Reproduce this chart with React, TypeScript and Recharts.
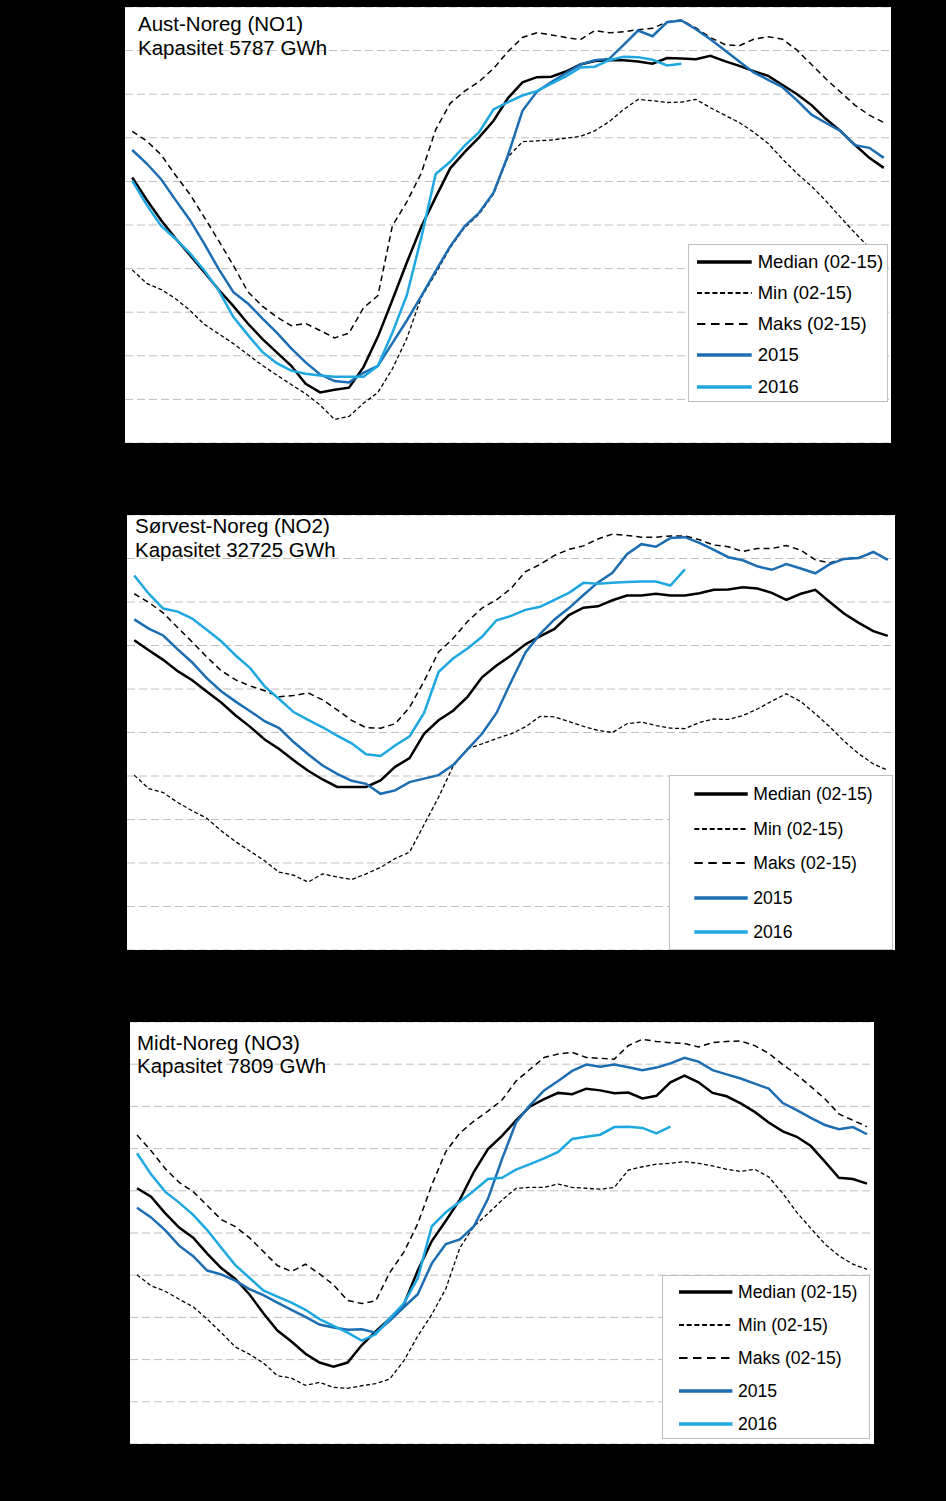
import React from 'react';
import { LineChart, Line, XAxis, YAxis, CartesianGrid, Legend } from 'recharts';

const FONT = "'Liberation Sans', Arial, sans-serif";

const weeks = [
  1, 2, 3, 4, 5, 6, 7, 8, 9, 10, 11, 12, 13, 14, 15, 16, 17, 18, 19, 20, 21, 22, 23, 24, 25, 26, 27,
  28, 29, 30, 31, 32, 33, 34, 35, 36, 37, 38, 39, 40, 41, 42, 43, 44, 45, 46, 47, 48, 49, 50, 51, 52, 53,
];
const yTicks = [0, 10, 20, 30, 40, 50, 60, 70, 80, 90, 100];

// Aust-Noreg (NO1), fyllingsgrad i prosent
const no1Median = [
  60.9, 55.8, 51.1, 46.9, 43.1, 39.1, 35.1, 31.4, 27.4, 23.9, 20.8, 17.7, 13.6, 11.6, 12.2, 12.7, 17.4, 24.4,
  32.8, 41.4, 49.6, 56.4, 63.0, 66.7, 70.1, 73.9, 79.1, 82.7, 83.9, 84.0, 85.2, 86.8, 87.6, 87.8, 87.8, 87.5,
  87.0, 88.3, 88.2, 88.0, 88.8, 87.6, 86.5, 85.3, 84.2, 82.1, 80.0, 77.5, 74.3, 71.6, 68.4, 65.4, 63.1,
];
const no1Min = [
  39.7, 36.6, 35.2, 33.1, 30.4, 27.2, 25.0, 22.8, 20.3, 17.8, 15.6, 13.4, 11.3, 8.7, 5.4, 6.1, 9.1, 11.6,
  17.0, 24.0, 33.4, 38.9, 44.8, 49.4, 52.5, 57.1, 65.6, 69.1, 69.3, 69.5, 69.9, 70.3, 71.6, 73.7, 76.5, 78.8,
  78.5, 78.1, 78.2, 78.8, 76.9, 75.2, 73.5, 71.3, 68.7, 65.1, 61.8, 58.9, 55.5, 51.8, 48.2, 44.8, 42.0,
];
const no1Maks = [
  71.5, 69.3, 66.1, 61.4, 57.0, 51.7, 46.3, 40.7, 34.7, 31.4, 28.9, 26.9, 27.4, 25.8, 24.1, 25.2, 31.0, 33.8,
  49.8, 55.3, 61.9, 71.9, 77.9, 80.7, 82.9, 85.9, 89.8, 93.0, 94.1, 93.6, 93.0, 92.5, 94.6, 94.1, 94.3, 94.8,
  95.1, 96.6, 97.0, 95.2, 93.0, 91.4, 91.1, 92.6, 93.2, 92.6, 90.1, 86.8, 83.5, 80.5, 77.5, 75.2, 73.5,
];
const no1Y2015 = [
  67.2, 64.1, 60.5, 55.7, 51.1, 45.6, 39.8, 34.6, 32.0, 28.6, 25.3, 21.7, 18.5, 15.7, 14.2, 13.9, 16.1, 17.7,
  22.9, 28.1, 33.7, 39.5, 45.1, 49.7, 52.8, 57.4, 66.0, 76.2, 80.6, 82.8, 84.8, 86.8, 87.8, 88.1, 91.3, 94.6,
  93.3, 96.5, 96.9, 94.9, 92.6, 90.1, 87.5, 85.0, 83.3, 81.6, 78.6, 75.3, 73.4, 71.6, 68.3, 67.7, 65.4,
];
const no1Y2016 = [
  60.2, 54.6, 49.8, 46.8, 43.5, 39.5, 34.9, 28.9, 24.8, 20.9, 18.3, 16.6, 15.9, 15.5, 15.2, 15.2, 15.2, 17.7,
  25.3, 33.9, 47.1, 61.7, 64.5, 68.2, 71.3, 76.5, 78.2, 79.7, 80.7, 82.4, 84.1, 86.1, 86.3, 87.8, 88.6, 88.5,
  87.9, 86.6, 87.0,
];

// Sørvest-Noreg (NO2)
const no2Median = [
  71.2, 68.9, 66.7, 64.1, 62.0, 59.4, 56.9, 53.9, 51.3, 48.4, 46.2, 43.6, 41.2, 39.2, 37.5, 37.5, 37.5, 39.0,
  42.1, 44.1, 49.7, 52.8, 55.0, 58.2, 62.7, 65.4, 67.7, 70.3, 72.1, 73.8, 77.0, 78.7, 79.0, 80.4, 81.5, 81.5,
  81.9, 81.5, 81.5, 82.0, 82.8, 82.9, 83.4, 83.1, 82.1, 80.5, 81.9, 82.8, 80.0, 77.3, 75.2, 73.3, 72.2,
];
const no2Min = [
  40.2, 37.1, 36.2, 33.9, 32.0, 30.3, 27.4, 24.9, 22.7, 20.5, 17.9, 17.2, 15.6, 17.5, 16.8, 16.2, 17.5, 19.0,
  21.0, 22.5, 28.8, 35.1, 42.2, 46.3, 47.4, 48.6, 49.7, 51.3, 53.7, 53.6, 52.5, 51.4, 50.5, 50.0, 52.0, 52.4,
  51.6, 51.0, 50.9, 52.3, 53.1, 53.0, 53.9, 55.4, 57.2, 58.9, 57.1, 54.3, 51.3, 48.0, 45.1, 42.8, 41.3,
];
const no2Maks = [
  81.9, 79.9, 77.5, 74.1, 70.8, 67.4, 64.2, 62.1, 60.7, 59.6, 58.2, 58.5, 59.1, 57.5, 55.2, 52.8, 51.1, 51.0,
  52.0, 55.8, 61.8, 68.5, 71.6, 75.5, 78.6, 80.5, 83.1, 87.0, 88.6, 90.7, 92.1, 92.9, 94.5, 95.6, 95.3, 94.9,
  94.9, 95.2, 95.2, 94.3, 93.1, 92.7, 91.6, 92.3, 92.3, 93.0, 91.9, 89.7, 89.0, 90.0, 90.2, 91.5, 89.8,
];
const no2Y2015 = [
  76.0, 73.9, 72.3, 69.1, 66.1, 62.5, 59.5, 57.1, 54.9, 52.6, 51.0, 47.8, 45.0, 42.4, 40.5, 38.9, 38.2, 35.9,
  36.7, 38.6, 39.4, 40.2, 42.5, 46.1, 49.7, 54.5, 61.6, 68.4, 72.6, 76.0, 78.6, 81.6, 84.5, 86.7, 91.0, 93.3,
  92.7, 94.7, 94.9, 93.6, 92.0, 90.3, 89.6, 88.2, 87.4, 88.7, 87.7, 86.6, 88.7, 89.9, 90.1, 91.5, 89.7,
];
const no2Y2016 = [
  86.1, 81.9, 78.5, 77.8, 76.2, 73.6, 71.0, 67.7, 64.8, 60.6, 57.7, 54.7, 52.9, 51.2, 49.3, 47.5, 45.0, 44.6,
  47.0, 49.1, 54.5, 63.9, 67.0, 69.3, 72.0, 75.8, 76.8, 78.2, 78.9, 80.5, 82.1, 84.4, 84.2, 84.4, 84.6, 84.7,
  84.7, 83.8, 87.5,
];

// Midt-Noreg (NO3)
const no3Median = [
  60.6, 58.6, 54.7, 51.3, 48.9, 45.1, 41.7, 39.1, 35.5, 31.0, 26.9, 24.3, 21.4, 19.3, 18.3, 19.3, 23.4, 26.7,
  29.7, 33.0, 41.1, 48.1, 52.9, 57.9, 64.5, 69.9, 73.0, 76.7, 80.0, 81.7, 83.2, 82.9, 84.2, 83.8, 83.1, 83.3,
  81.9, 82.5, 85.7, 87.3, 85.7, 83.2, 82.4, 80.7, 78.7, 76.2, 74.1, 72.8, 70.6, 66.9, 63.1, 62.8, 61.7,
];
const no3Min = [
  40.1, 37.5, 36.2, 34.3, 32.5, 29.6, 26.4, 23.0, 21.3, 19.2, 16.2, 15.6, 13.9, 14.6, 13.4, 13.2, 13.8, 14.3,
  15.4, 19.7, 25.6, 30.7, 36.8, 46.5, 51.6, 54.6, 57.8, 60.6, 60.8, 60.8, 61.6, 60.8, 60.6, 60.4, 60.8, 64.9,
  65.7, 66.3, 66.5, 66.9, 66.5, 65.9, 65.1, 64.6, 65.1, 63.3, 59.4, 54.9, 51.1, 47.4, 44.6, 42.6, 41.4,
];
const no3Maks = [
  73.2, 69.5, 65.3, 62.0, 59.8, 56.5, 53.2, 51.5, 48.9, 45.6, 42.3, 40.9, 42.6, 40.3, 37.7, 34.0, 33.3, 33.9,
  40.6, 45.4, 52.2, 61.4, 69.3, 73.7, 76.5, 78.9, 81.5, 86.0, 88.8, 91.6, 92.4, 92.8, 91.6, 91.4, 91.2, 94.4,
  95.9, 95.4, 95.1, 94.9, 94.1, 95.1, 95.4, 95.5, 94.4, 92.6, 89.9, 87.5, 84.7, 81.8, 78.2, 76.7, 75.2,
];
const no3Y2015 = [
  56.0, 53.7, 50.7, 47.0, 44.5, 41.1, 40.2, 38.7, 36.7, 35.3, 33.5, 31.8, 30.1, 28.3, 27.6, 27.1, 27.2, 26.4,
  29.2, 32.4, 35.5, 42.8, 47.4, 48.5, 51.6, 58.1, 67.5, 76.2, 80.3, 83.8, 86.0, 88.4, 89.9, 89.4, 89.9, 89.3,
  88.6, 89.2, 90.2, 91.5, 90.6, 88.6, 87.6, 86.6, 85.4, 84.2, 80.8, 79.1, 77.3, 75.6, 74.6, 75.1, 73.4,
];
const no3Y2016 = [
  68.9, 63.9, 59.8, 57.2, 54.3, 50.7, 46.5, 42.4, 39.4, 36.4, 34.9, 33.5, 31.8, 29.6, 28.0, 26.4, 24.5, 26.0,
  29.7, 33.3, 39.3, 51.6, 54.9, 57.4, 60.0, 62.8, 63.1, 65.0, 66.3, 67.7, 69.2, 72.3, 72.8, 73.3, 75.1, 75.2,
  74.9, 73.6, 75.2,
];

const seriesStyles = [
  { key: 'maks', name: 'Maks (02-15)', stroke: '#000000', width: 1.5, dash: '6 4', legendWidth: 2, legendDash: '8.5 5.5' },
  { key: 'min', name: 'Min (02-15)', stroke: '#000000', width: 1.3, dash: '4 2.5', legendWidth: 2, legendDash: '5 2.7' },
  { key: 'median', name: 'Median (02-15)', stroke: '#000000', width: 2.5, dash: undefined, legendWidth: 3.5, legendDash: undefined },
  { key: 'y2015', name: '2015', stroke: '#1c6db1', width: 2.5, dash: undefined, legendWidth: 3.5, legendDash: undefined },
  { key: 'y2016', name: '2016', stroke: '#1ea7e1', width: 2.5, dash: undefined, legendWidth: 3.5, legendDash: undefined },
];
const legendOrder = ['median', 'min', 'maks', 'y2015', 'y2016'];

function buildRows(median: number[], min: number[], maks: number[], y2015: number[], y2016: number[]) {
  return weeks.map((week, i) => ({
    week,
    median: median[i],
    min: min[i],
    maks: maks[i],
    y2015: y2015[i],
    y2016: i < y2016.length ? y2016[i] : null,
  }));
}

const panels = [
  {
    id: 'no1',
    title: 'Aust-Noreg (NO1)',
    capacity: 'Kapasitet 5787 GWh',
    rows: buildRows(no1Median, no1Min, no1Maks, no1Y2015, no1Y2016),
    box: { left: 125, top: 7, width: 766, height: 436 },
    titleX: 138,
    baselines: [31, 55],
    legend: { left: 563, top: 237, width: 200, height: 158, firstRow: 16.7, rowGap: 31.2, x1: 8, x2: 62.7, textX: 68.7, fontSize: 18.5 },
  },
  {
    id: 'no2',
    title: 'Sørvest-Noreg (NO2)',
    capacity: 'Kapasitet 32725 GWh',
    rows: buildRows(no2Median, no2Min, no2Maks, no2Y2015, no2Y2016),
    box: { left: 127, top: 515, width: 768, height: 435 },
    titleX: 135,
    baselines: [533, 557],
    legend: { left: 542, top: 260, width: 224, height: 175, firstRow: 18.4, rowGap: 34.5, x1: 24.3, x2: 77.7, textX: 83.3, fontSize: 17.6 },
  },
  {
    id: 'no3',
    title: 'Midt-Noreg (NO3)',
    capacity: 'Kapasitet 7809 GWh',
    rows: buildRows(no3Median, no3Min, no3Maks, no3Y2015, no3Y2016),
    box: { left: 130, top: 1022, width: 744, height: 422 },
    titleX: 137,
    baselines: [1050, 1073],
    legend: { left: 532, top: 253, width: 208, height: 164, firstRow: 15.6, rowGap: 33, x1: 16, x2: 69.4, textX: 75, fontSize: 17.6 },
  },
];

const TITLE_SIZE = 20.5;

function LegendBox({ cfg }: { cfg: any }) {
  const items = legendOrder.map((k) => seriesStyles.find((s) => s.key === k)!);
  return (
    <div
      style={{
        position: 'relative',
        width: cfg.width,
        height: cfg.height,
        boxSizing: 'border-box',
        border: '1px solid #bfbfbf',
        background: '#ffffff',
        fontFamily: FONT,
      }}
    >
      {items.map((s, i) => (
        <div
          key={s.key}
          style={{
            position: 'absolute',
            left: 0,
            top: cfg.firstRow + i * cfg.rowGap - 14,
            height: 28,
            display: 'flex',
            alignItems: 'center',
            whiteSpace: 'nowrap',
          }}
        >
          <svg width={cfg.textX} height={28} style={{ display: 'block' }}>
            <line
              x1={cfg.x1}
              x2={cfg.x2}
              y1={14}
              y2={14}
              stroke={s.stroke}
              strokeWidth={s.legendWidth}
              strokeDasharray={s.legendDash}
            />
          </svg>
          <span style={{ fontSize: cfg.fontSize, color: '#000', lineHeight: '28px' }}>{s.name}</span>
        </div>
      ))}
    </div>
  );
}

export default function App() {
  return (
    <div
      style={{
        position: 'absolute',
        left: 0,
        top: 0,
        width: 946,
        height: 1501,
        background: '#000000',
        overflow: 'hidden',
        fontFamily: FONT,
      }}
    >
      {panels.map((p) => (
        <div
          key={p.id}
          style={{
            position: 'absolute',
            left: p.box.left,
            top: p.box.top,
            width: p.box.width,
            height: p.box.height,
            background: '#ffffff',
          }}
        >
          <LineChart
            width={p.box.width}
            height={p.box.height}
            data={p.rows}
            margin={{ top: 0, right: 0, bottom: 0, left: 0 }}
          >
            <CartesianGrid vertical={false} stroke="#bfbfbf" strokeDasharray="8 4" />
            <XAxis dataKey="week" type="number" domain={[0.5, 53.5]} hide />
            <YAxis type="number" domain={[0, 100]} ticks={yTicks} hide />
            {seriesStyles.map((s) => (
              <Line
                key={s.key}
                type="linear"
                dataKey={s.key}
                name={s.name}
                stroke={s.stroke}
                strokeWidth={s.width}
                strokeDasharray={s.dash}
                dot={false}
                activeDot={false}
                isAnimationActive={false}
              />
            ))}
            <Legend
              layout="vertical"
              align="center"
              verticalAlign="middle"
              wrapperStyle={{ left: p.legend.left, top: p.legend.top, width: p.legend.width, height: p.legend.height }}
              content={() => <LegendBox cfg={p.legend} />}
            />
          </LineChart>
        </div>
      ))}
      {panels.map((p) =>
        [p.title, p.capacity].map((t, i) => (
          <div
            key={p.id + i}
            style={{
              position: 'absolute',
              left: p.titleX,
              top: p.baselines[i] - TITLE_SIZE * 0.85,
              fontSize: TITLE_SIZE,
              lineHeight: '1',
              color: '#000',
              whiteSpace: 'nowrap',
            }}
          >
            {t}
          </div>
        ))
      )}
    </div>
  );
}
